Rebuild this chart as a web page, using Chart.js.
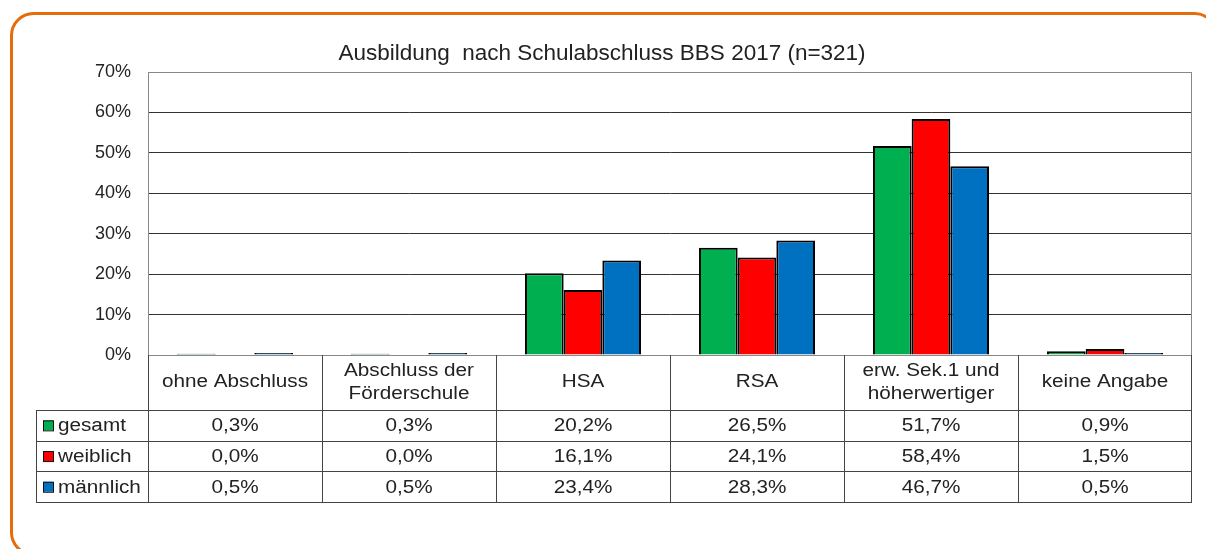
<!DOCTYPE html>
<html>
<head>
<meta charset="utf-8">
<script src="https://cdn.jsdelivr.net/npm/chart.js@4"></script>
<style>
  html, body { margin: 0; padding: 0; background: #fff; }
  #wrap { width: 1206px; height: 549px; position: relative; }
</style>
</head>
<body>
<div id="wrap"><canvas id="chart" width="1206" height="549"></canvas></div>
<script>
const categories = [
  ['ohne Abschluss'],
  ['Abschluss der', 'Förderschule'],
  ['HSA'],
  ['RSA'],
  ['erw. Sek.1 und', 'höherwertiger'],
  ['keine Angabe']
];
const seriesNames = ['gesamt', 'weiblich', 'männlich'];
const gesamt = [0.3, 0.3, 20.2, 26.5, 51.7, 0.9];
const weiblich = [0.0, 0.0, 16.1, 24.1, 58.4, 1.5];
const maennlich = [0.5, 0.5, 23.4, 28.3, 46.7, 0.5];
const yTicks = [0, 10, 20, 30, 40, 50, 60, 70];
const colors = ['#00B050', '#FF0000', '#0070C0'];

const FONT = '"Liberation Sans", Arial, sans-serif';
const fmt = v => v.toFixed(1).replace('.', ',') + '%';

// orange frame behind everything
const framePlugin = {
  id: 'frame',
  beforeDraw(chart) {
    const ctx = chart.ctx;
    ctx.save();
    ctx.fillStyle = '#fff';
    ctx.fillRect(0, 0, chart.width, chart.height);
    ctx.strokeStyle = '#E46C0A';
    ctx.lineWidth = 3;
    ctx.beginPath();
    ctx.roundRect(11.5, 13.5, 1205, 541, 22);
    ctx.stroke();
    ctx.restore();
  }
};

// table text in the original looks a bit wider than normal
function wideText(ctx, text, x, y, align) {
  const sx = 1.15;
  ctx.save();
  ctx.translate(x, y);
  ctx.scale(sx, 1);
  ctx.textAlign = align;
  ctx.fillText(text, 0, 0);
  ctx.restore();
}

// data table under the plot, built from the same arrays
const tablePlugin = {
  id: 'dataTable',
  afterDraw(chart) {
    const ctx = chart.ctx;
    const area = chart.chartArea;
    const xs = chart.scales.x;
    const n = categories.length;
    const cw = xs.width / n;
    const top = area.bottom;
    const headH = 55;
    const rowH = 30.7;
    const left = 36;
    const bottom = top + headH + rowH * 3;
    ctx.save();
    // plot border
    ctx.strokeStyle = '#888';
    ctx.lineWidth = 1;
    ctx.strokeRect(area.left + 0.5, area.top + 0.5, area.right - area.left - 1, area.bottom - area.top);

    ctx.strokeStyle = '#444';
    ctx.beginPath();
    for (let i = 0; i <= n; i++) {
      const x = Math.round(xs.getPixelForValue(i) - cw / 2) + 0.5;
      const xx = i === n ? Math.round(area.right) - 0.5 : x;
      ctx.moveTo(xx, top);
      ctx.lineTo(xx, bottom);
    }
    ctx.moveTo(left + 0.5, top + headH);
    ctx.lineTo(left + 0.5, bottom);
    for (let r = 0; r <= 3; r++) {
      const y = Math.round(top + headH + rowH * r) + 0.5;
      ctx.moveTo(left, y);
      ctx.lineTo(area.right, y);
    }
    ctx.stroke();

    ctx.fillStyle = '#222';
    ctx.font = '18px ' + FONT;
    ctx.textBaseline = 'middle';
    categories.forEach((lines, i) => {
      const cx = xs.getPixelForValue(i);
      const cy = top + headH / 2;
      const lh = 23;
      lines.forEach((t, k) => {
        wideText(ctx, t, cx, cy + (k - (lines.length - 1) / 2) * lh, 'center');
      });
    });
    const series = [gesamt, weiblich, maennlich];
    series.forEach((vals, r) => {
      const cy = top + headH + rowH * r + rowH / 2 + 1;
      vals.forEach((v, i) => {
        wideText(ctx, fmt(v), xs.getPixelForValue(i), cy, 'center');
      });
      ctx.fillStyle = colors[r];
      ctx.fillRect(43, cy - 6, 10, 10);
      ctx.strokeStyle = '#111';
      ctx.strokeRect(43.5, cy - 5.5, 10, 10);
      ctx.fillStyle = '#222';
      wideText(ctx, seriesNames[r], 58, cy, 'left');
    });
    ctx.restore();
  }
};

new Chart(document.getElementById('chart'), {
  type: 'bar',
  data: {
    labels: categories,
    datasets: [
      { label: seriesNames[0], data: gesamt, backgroundColor: colors[0] },
      { label: seriesNames[1], data: weiblich, backgroundColor: colors[1] },
      { label: seriesNames[2], data: maennlich, backgroundColor: colors[2] }
    ].map(d => Object.assign(d, {
      borderColor: '#000', borderWidth: 2, borderSkipped: 'start',
      categoryPercentage: 0.667, barPercentage: 1
    }))
  },
  options: {
    responsive: false,
    animation: false,
    layout: { padding: { left: 12, right: 14, top: 0, bottom: 194 } },
    plugins: {
      legend: { display: false },
      tooltip: { enabled: false },
      title: {
        display: true,
        text: 'Ausbildung  nach Schulabschluss BBS 2017 (n=321)',
        color: '#222',
        font: { family: FONT, size: 22.5, weight: 'normal', lineHeight: 1.2 },
        padding: { top: 40, bottom: 5 }
      }
    },
    scales: {
      x: { display: false },
      y: {
        min: 0, max: 70,
        afterFit(scale) { scale.width = 136; },
        afterBuildTicks(scale) { scale.ticks = yTicks.map(v => ({ value: v })); },
        ticks: {
          padding: 17,
          color: '#222',
          font: { family: FONT, size: 18 },
          callback: v => v + '%'
        },
        grid: { color: '#333', lineWidth: 1, drawTicks: false },
        border: { display: true, color: '#888' }
      }
    }
  },
  plugins: [framePlugin, tablePlugin]
});
</script>
</body>
</html>
